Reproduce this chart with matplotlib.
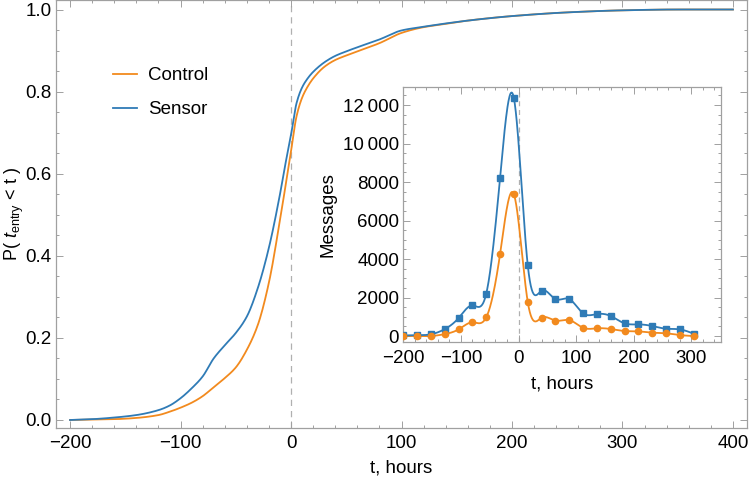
import matplotlib
matplotlib.use("Agg")
import matplotlib.pyplot as plt
import numpy as np
from matplotlib.ticker import MultipleLocator, FuncFormatter

plt.rcParams["font.family"] = ["Liberation Sans", "DejaVu Sans"]
plt.rcParams["mathtext.fontset"] = "custom"
plt.rcParams["mathtext.rm"] = "Liberation Sans"
plt.rcParams["mathtext.it"] = "Liberation Sans:italic"
plt.rcParams["font.size"] = 13.5

# 主图数据：累计分布
t_cdf = [-200, -180, -160, -140, -120, -110, -100, -90, -80, -70, -60, -50, -40,
         -30, -20, -10, -5, 0, 5, 10, 15, 20, 30, 40, 50, 60, 80, 100, 120,
         140, 160, 200, 250, 300, 350, 400]
sensor_cdf = [0.0, 0.002, 0.006, 0.012, 0.024, 0.035, 0.053, 0.077, 0.106, 0.15,
              0.182, 0.212, 0.252, 0.322, 0.42, 0.55, 0.625, 0.695, 0.772, 0.81,
              0.832, 0.848, 0.871, 0.887, 0.898, 0.908, 0.927, 0.949, 0.958,
              0.966, 0.973, 0.984, 0.993, 0.998, 1.0, 1.0]
control_cdf = [0.0, 0.001, 0.002, 0.005, 0.012, 0.02, 0.03, 0.042, 0.058, 0.08,
               0.102, 0.128, 0.171, 0.232, 0.335, 0.487, 0.57, 0.655, 0.74, 0.785,
               0.812, 0.832, 0.86, 0.877, 0.888, 0.898, 0.918, 0.943, 0.957,
               0.965, 0.973, 0.984, 0.993, 0.998, 1.0, 1.0]

# 插图数据：消息数
t_msg = [-200, -176, -152, -128, -104, -80, -56, -32, -8, 16, 40, 64, 88, 112,
         136, 160, 184, 208, 232, 256, 280, 304]
sensor_msg = [30, 40, 90, 360, 935, 1590, 2200, 8225, 12350, 3690, 2355, 1920,
              1920, 1180, 1140, 1040, 660, 605, 520, 380, 345, 120]
control_msg = [0, 0, 0, 100, 345, 710, 970, 4260, 7360, 1780, 950, 800, 830,
               430, 400, 365, 260, 240, 175, 140, 50, 0]

c_blue = "#2f7bb6"
c_orange = "#f28a1e"
frame_gray = "#a0a0a0"


def spline_curve(x, y, n=600):
    # 自然三次样条，用于平滑连线
    x = np.asarray(x, float)
    y = np.asarray(y, float)
    h = np.diff(x)
    m = len(x)
    A = np.zeros((m, m))
    b = np.zeros(m)
    A[0, 0] = A[-1, -1] = 1
    for i in range(1, m - 1):
        A[i, i - 1] = h[i - 1]
        A[i, i] = 2 * (h[i - 1] + h[i])
        A[i, i + 1] = h[i]
        b[i] = 6 * ((y[i + 1] - y[i]) / h[i] - (y[i] - y[i - 1]) / h[i - 1])
    M = np.linalg.solve(A, b)
    xs = np.linspace(x[0], x[-1], n)
    k = np.clip(np.searchsorted(x, xs) - 1, 0, m - 2)
    dx1 = xs - x[k]
    dx2 = x[k + 1] - xs
    hk = h[k]
    ys = (M[k] * dx2 ** 3 / (6 * hk) + M[k + 1] * dx1 ** 3 / (6 * hk)
          + (y[k] / hk - M[k] * hk / 6) * dx2 + (y[k + 1] / hk - M[k + 1] * hk / 6) * dx1)
    return xs, ys


def pchip_curve(x, y, n=800):
    # 单调三次插值，平滑累计曲线
    x = np.asarray(x, float)
    y = np.asarray(y, float)
    h = np.diff(x)
    d = np.diff(y) / h
    m = np.zeros_like(y)
    m[0], m[-1] = d[0], d[-1]
    for k in range(1, len(x) - 1):
        if d[k - 1] * d[k] > 0:
            w1 = 2 * h[k] + h[k - 1]
            w2 = h[k] + 2 * h[k - 1]
            m[k] = (w1 + w2) / (w1 / d[k - 1] + w2 / d[k])
    xs = np.linspace(x[0], x[-1], n)
    k = np.clip(np.searchsorted(x, xs) - 1, 0, len(x) - 2)
    s = (xs - x[k]) / h[k]
    h00 = 2 * s ** 3 - 3 * s ** 2 + 1
    h10 = s ** 3 - 2 * s ** 2 + s
    h01 = -2 * s ** 3 + 3 * s ** 2
    h11 = s ** 3 - s ** 2
    ys = h00 * y[k] + h10 * h[k] * m[k] + h01 * y[k + 1] + h11 * h[k] * m[k + 1]
    return xs, ys


def style_frame(ax):
    for s in ax.spines.values():
        s.set_color(frame_gray)
        s.set_linewidth(0.9)
    ax.tick_params(which="both", direction="in", top=True, right=True,
                   color=frame_gray, width=0.7)
    ax.tick_params(which="major", length=5)
    ax.tick_params(which="minor", length=2.5)


fig = plt.figure(figsize=(7.5, 4.78), dpi=100)

# 主图
ax = fig.add_axes([0.0747, 0.104, 0.9213, 0.895])
ax.axvline(0, color="#b0b0b0", linestyle=(0, (5, 4)), linewidth=0.9, zorder=1)
xs, ys = pchip_curve(t_cdf, control_cdf)
ax.plot(xs, ys, color=c_orange, linewidth=1.3, label="Control", zorder=2)
xs, ys = pchip_curve(t_cdf, sensor_cdf)
ax.plot(xs, ys, color=c_blue, linewidth=1.3, label="Sensor", zorder=3)
ax.set_xlim(-212.7, 412.7)
ax.set_ylim(-0.0202, 1.022)
ax.xaxis.set_major_locator(MultipleLocator(100))
ax.xaxis.set_minor_locator(MultipleLocator(20))
ax.yaxis.set_major_locator(MultipleLocator(0.2))
ax.yaxis.set_minor_locator(MultipleLocator(0.05))
ax.yaxis.set_major_formatter(FuncFormatter(lambda v, p: f"{v:.1f}"))
style_frame(ax)
ax.tick_params(axis="x", which="major", pad=5)
ax.tick_params(axis="y", which="major", pad=3)
ax.set_xlabel("t, hours", labelpad=5)
ax.set_ylabel(r"P( $\mathit{t}_{\mathrm{entry}}$ < t )", fontsize=13)
ax.yaxis.set_label_coords(-0.043, 0.5)

ax.legend(loc="upper left", bbox_to_anchor=(0.058, 0.884), frameon=False,
          handlelength=1.3, handletextpad=0.55, labelspacing=0.9)

# 插图
ins = fig.add_axes([0.5377, 0.2851, 0.4233, 0.5335])
ins.set_facecolor("white")
ins.axvline(0, color="#b0b0b0", linestyle=(0, (4, 3)), linewidth=0.9, zorder=1)
xs, ys = spline_curve(t_msg, sensor_msg)
ins.plot(xs, ys, color=c_blue, linewidth=1.3, zorder=3)
ins.plot(t_msg, sensor_msg, "s", color=c_blue, markersize=4, zorder=4)
xs, ys = spline_curve(t_msg, control_msg)
ins.plot(xs, ys, color=c_orange, linewidth=1.3, zorder=2)
ins.plot(t_msg, control_msg, "o", color=c_orange, markersize=4.5, zorder=4)
ins.set_xlim(-200, 351)
ins.set_ylim(-296, 12951)
ins.xaxis.set_major_locator(MultipleLocator(100))
ins.xaxis.set_minor_locator(MultipleLocator(20))
ins.yaxis.set_major_locator(MultipleLocator(2000))
ins.yaxis.set_minor_locator(MultipleLocator(500))


def msg_fmt(v, p):
    v = int(round(v))
    if v >= 10000:
        return f"{v // 1000}\u2009{v % 1000:03d}"
    return str(v)


ins.yaxis.set_major_formatter(FuncFormatter(msg_fmt))
style_frame(ins)
ins.tick_params(axis="x", which="major", pad=6)
ins.tick_params(axis="y", which="major", pad=3)
ins.set_xlabel("t, hours", labelpad=6)
ins.set_ylabel("Messages", labelpad=5)

fig.savefig("out.png", dpi=100)
